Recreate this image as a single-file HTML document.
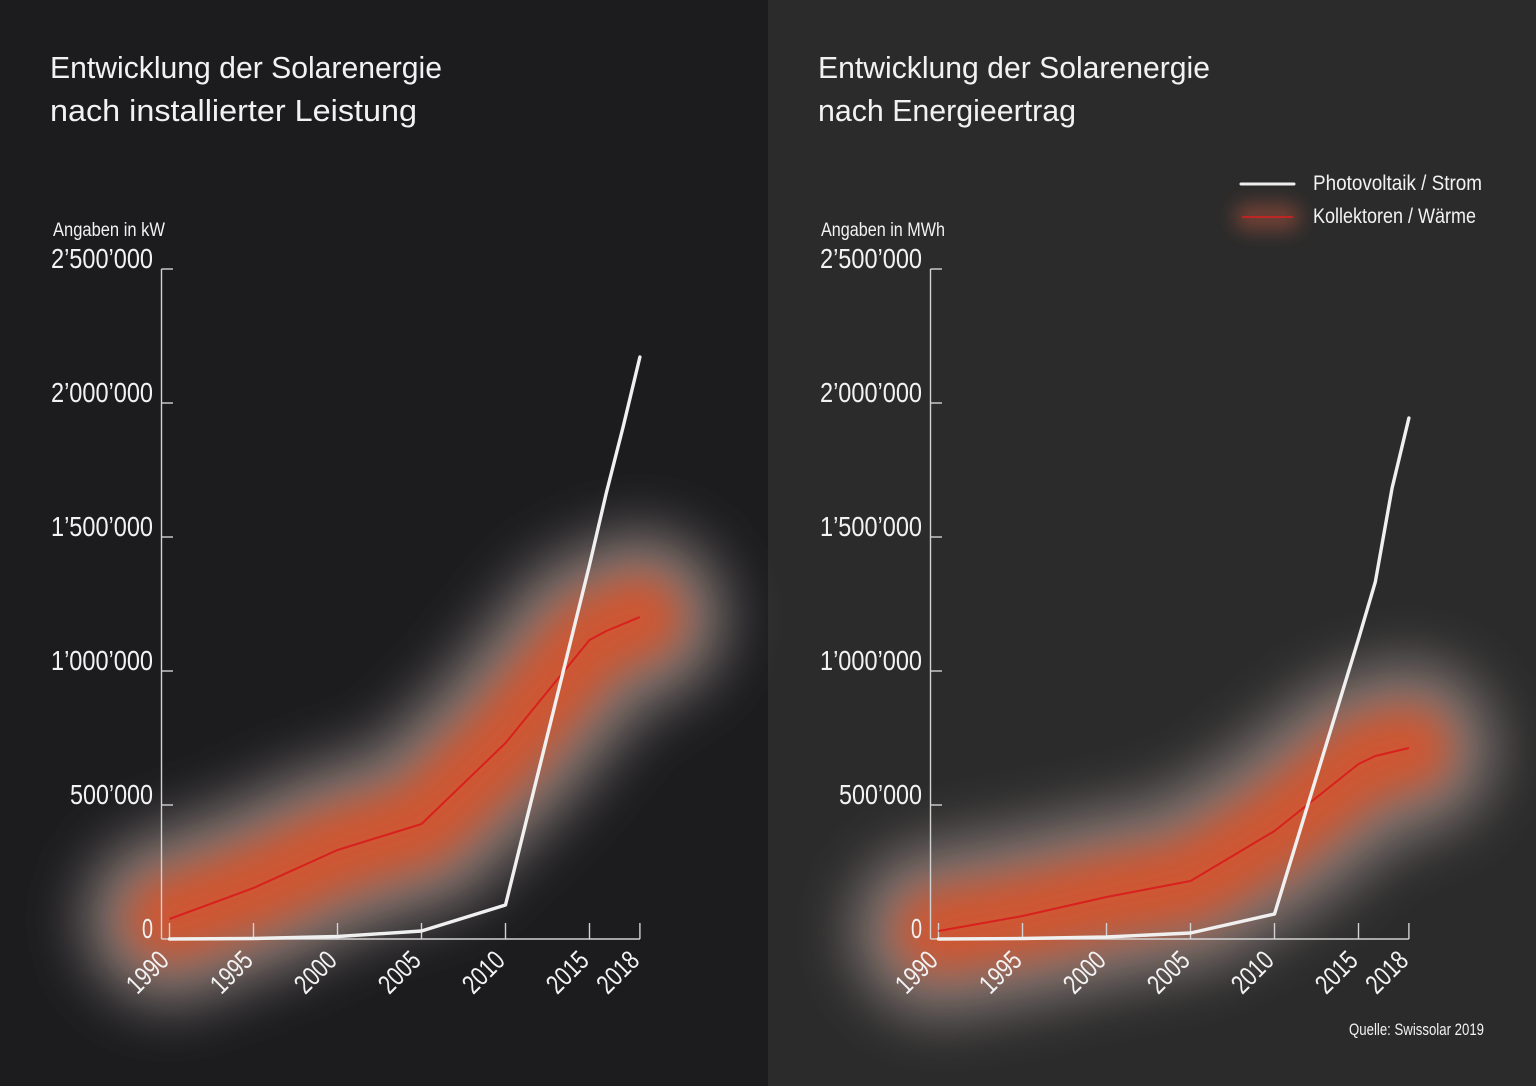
<!DOCTYPE html>
<html>
<head>
<meta charset="utf-8">
<style>
  html, body { margin: 0; padding: 0; background: #1c1c1f; }
  svg { display: block; }
  text { font-family: "Liberation Sans Narrow", "Liberation Sans", sans-serif; fill: #f2f2f2; }
</style>
</head>
<body>
<svg width="1536" height="1086" viewBox="0 0 1536 1086" xmlns="http://www.w3.org/2000/svg">
  <defs>
    <filter id="blurGrey" filterUnits="userSpaceOnUse" x="0" y="0" width="1536" height="1086">
      <feGaussianBlur stdDeviation="28"/>
    </filter>
    <filter id="blurOrange" filterUnits="userSpaceOnUse" x="0" y="0" width="1536" height="1086">
      <feGaussianBlur stdDeviation="20"/>
    </filter>
    <filter id="blurLegend" filterUnits="userSpaceOnUse" x="0" y="0" width="1536" height="1086">
      <feGaussianBlur stdDeviation="9"/>
    </filter>
  </defs>

  <!-- backgrounds -->
  <rect x="0" y="0" width="768" height="1086" fill="#1c1c1f"/>
  <rect x="768" y="0" width="768" height="1086" fill="#2b2b2b"/>

  <!-- ============ LEFT PANEL ============ -->
  <text x="50" y="78" font-size="31" textLength="392" lengthAdjust="spacingAndGlyphs">Entwicklung der Solarenergie</text>
  <text x="50" y="121" font-size="31" textLength="367" lengthAdjust="spacingAndGlyphs">nach installierter Leistung</text>
  <text x="53" y="236" font-size="19" textLength="112" lengthAdjust="spacingAndGlyphs">Angaben in kW</text>

  <!-- glow left -->
  <path d="M169.5,919 L253.5,888 L337.5,850 L421.5,824 L505.5,743 L589.5,640 L606.3,631 L623.1,624 L639.9,617"
        fill="none" stroke="#807673" stroke-width="175" stroke-linecap="round" stroke-linejoin="round" filter="url(#blurGrey)"/>
  <path d="M169.5,919 L253.5,888 L337.5,850 L421.5,824 L505.5,743 L589.5,640 L606.3,631 L623.1,624 L639.9,617"
        fill="none" stroke="#cf5633" stroke-width="86" stroke-linecap="round" stroke-linejoin="round" filter="url(#blurOrange)"/>

  <!-- y labels left -->
  <g font-size="28">
    <text x="51" y="268" textLength="102" lengthAdjust="spacingAndGlyphs">2’500’000</text>
    <text x="51" y="402" textLength="102" lengthAdjust="spacingAndGlyphs">2’000’000</text>
    <text x="51" y="536" textLength="102" lengthAdjust="spacingAndGlyphs">1’500’000</text>
    <text x="51" y="670" textLength="102" lengthAdjust="spacingAndGlyphs">1’000’000</text>
    <text x="70" y="804" textLength="83" lengthAdjust="spacingAndGlyphs">500’000</text>
    <text x="142" y="938" textLength="11" lengthAdjust="spacingAndGlyphs">0</text>
  </g>

  <!-- axes left -->
  <g stroke="#d2d2d2" stroke-width="1.4" fill="none">
    <line x1="161.5" y1="269" x2="161.5" y2="939"/>
    <line x1="161.5" y1="939" x2="639.9" y2="939"/>
    <line x1="161.5" y1="269" x2="173" y2="269"/>
    <line x1="161.5" y1="403" x2="173" y2="403"/>
    <line x1="161.5" y1="537" x2="173" y2="537"/>
    <line x1="161.5" y1="671" x2="173" y2="671"/>
    <line x1="161.5" y1="805" x2="173" y2="805"/>
    <line x1="169.5" y1="923" x2="169.5" y2="939"/>
    <line x1="253.5" y1="923" x2="253.5" y2="939"/>
    <line x1="337.5" y1="923" x2="337.5" y2="939"/>
    <line x1="421.5" y1="923" x2="421.5" y2="939"/>
    <line x1="505.5" y1="923" x2="505.5" y2="939"/>
    <line x1="589.5" y1="923" x2="589.5" y2="939"/>
    <line x1="639.9" y1="923" x2="639.9" y2="939"/>
  </g>

  <!-- x labels left -->
  <g font-size="27">
    <text transform="translate(170.5,962) rotate(-45)" x="-47" y="0" textLength="47" lengthAdjust="spacingAndGlyphs">1990</text>
    <text transform="translate(254.5,962) rotate(-45)" x="-47" y="0" textLength="47" lengthAdjust="spacingAndGlyphs">1995</text>
    <text transform="translate(338.5,962) rotate(-45)" x="-47" y="0" textLength="47" lengthAdjust="spacingAndGlyphs">2000</text>
    <text transform="translate(422.5,962) rotate(-45)" x="-47" y="0" textLength="47" lengthAdjust="spacingAndGlyphs">2005</text>
    <text transform="translate(506.5,962) rotate(-45)" x="-47" y="0" textLength="47" lengthAdjust="spacingAndGlyphs">2010</text>
    <text transform="translate(590.5,962) rotate(-45)" x="-47" y="0" textLength="47" lengthAdjust="spacingAndGlyphs">2015</text>
    <text transform="translate(640.9,962) rotate(-45)" x="-47" y="0" textLength="47" lengthAdjust="spacingAndGlyphs">2018</text>
  </g>

  <!-- series left -->
  <path d="M169.5,919 L253.5,888 L337.5,850 L421.5,824 L505.5,743 L589.5,640 L606.3,631 L623.1,624 L639.9,617"
        fill="none" stroke="#d8201e" stroke-width="2" stroke-linejoin="round"/>
  <path d="M169.5,939 L253.5,938.5 L337.5,936.5 L421.5,931 L505.5,905 L589.5,565 L606.3,493 L623.1,427 L639.9,357"
        fill="none" stroke="#f0f0f0" stroke-width="3.4" stroke-linecap="round" stroke-linejoin="round"/>

  <!-- ============ RIGHT PANEL ============ -->
  <text x="818" y="78" font-size="31" textLength="392" lengthAdjust="spacingAndGlyphs">Entwicklung der Solarenergie</text>
  <text x="818" y="121" font-size="31" textLength="258" lengthAdjust="spacingAndGlyphs">nach Energieertrag</text>
  <text x="821" y="236" font-size="19" textLength="124" lengthAdjust="spacingAndGlyphs">Angaben in MWh</text>

  <!-- legend -->
  <line x1="1241" y1="184" x2="1294" y2="184" stroke="#f0f0f0" stroke-width="3" stroke-linecap="round"/>
  <line x1="1248" y1="217" x2="1287" y2="217" stroke="#6e4034" stroke-width="28" stroke-linecap="round" filter="url(#blurLegend)"/>
  <line x1="1242" y1="217" x2="1293" y2="217" stroke="#d8201e" stroke-width="1.6"/>
  <text x="1313" y="190" font-size="21" textLength="169" lengthAdjust="spacingAndGlyphs">Photovoltaik / Strom</text>
  <text x="1313" y="223" font-size="21" textLength="163" lengthAdjust="spacingAndGlyphs">Kollektoren / Wärme</text>

  <!-- glow right -->
  <path d="M938.5,931 L1022.5,916 L1106.5,897 L1190.5,881 L1274.5,831 L1358.5,764 L1375.3,756 L1392.1,752 L1408.9,748"
        fill="none" stroke="#807673" stroke-width="175" stroke-linecap="round" stroke-linejoin="round" filter="url(#blurGrey)"/>
  <path d="M938.5,931 L1022.5,916 L1106.5,897 L1190.5,881 L1274.5,831 L1358.5,764 L1375.3,756 L1392.1,752 L1408.9,748"
        fill="none" stroke="#cf5633" stroke-width="86" stroke-linecap="round" stroke-linejoin="round" filter="url(#blurOrange)"/>

  <!-- y labels right -->
  <g font-size="28">
    <text x="820" y="268" textLength="102" lengthAdjust="spacingAndGlyphs">2’500’000</text>
    <text x="820" y="402" textLength="102" lengthAdjust="spacingAndGlyphs">2’000’000</text>
    <text x="820" y="536" textLength="102" lengthAdjust="spacingAndGlyphs">1’500’000</text>
    <text x="820" y="670" textLength="102" lengthAdjust="spacingAndGlyphs">1’000’000</text>
    <text x="839" y="804" textLength="83" lengthAdjust="spacingAndGlyphs">500’000</text>
    <text x="911" y="938" textLength="11" lengthAdjust="spacingAndGlyphs">0</text>
  </g>

  <!-- axes right -->
  <g stroke="#d2d2d2" stroke-width="1.4" fill="none">
    <line x1="930.5" y1="269" x2="930.5" y2="939"/>
    <line x1="930.5" y1="939" x2="1408.9" y2="939"/>
    <line x1="930.5" y1="269" x2="942" y2="269"/>
    <line x1="930.5" y1="403" x2="942" y2="403"/>
    <line x1="930.5" y1="537" x2="942" y2="537"/>
    <line x1="930.5" y1="671" x2="942" y2="671"/>
    <line x1="930.5" y1="805" x2="942" y2="805"/>
    <line x1="938.5" y1="923" x2="938.5" y2="939"/>
    <line x1="1022.5" y1="923" x2="1022.5" y2="939"/>
    <line x1="1106.5" y1="923" x2="1106.5" y2="939"/>
    <line x1="1190.5" y1="923" x2="1190.5" y2="939"/>
    <line x1="1274.5" y1="923" x2="1274.5" y2="939"/>
    <line x1="1358.5" y1="923" x2="1358.5" y2="939"/>
    <line x1="1408.9" y1="923" x2="1408.9" y2="939"/>
  </g>

  <!-- x labels right -->
  <g font-size="27">
    <text transform="translate(939.5,962) rotate(-45)" x="-47" y="0" textLength="47" lengthAdjust="spacingAndGlyphs">1990</text>
    <text transform="translate(1023.5,962) rotate(-45)" x="-47" y="0" textLength="47" lengthAdjust="spacingAndGlyphs">1995</text>
    <text transform="translate(1107.5,962) rotate(-45)" x="-47" y="0" textLength="47" lengthAdjust="spacingAndGlyphs">2000</text>
    <text transform="translate(1191.5,962) rotate(-45)" x="-47" y="0" textLength="47" lengthAdjust="spacingAndGlyphs">2005</text>
    <text transform="translate(1275.5,962) rotate(-45)" x="-47" y="0" textLength="47" lengthAdjust="spacingAndGlyphs">2010</text>
    <text transform="translate(1359.5,962) rotate(-45)" x="-47" y="0" textLength="47" lengthAdjust="spacingAndGlyphs">2015</text>
    <text transform="translate(1409.9,962) rotate(-45)" x="-47" y="0" textLength="47" lengthAdjust="spacingAndGlyphs">2018</text>
  </g>

  <!-- series right -->
  <path d="M938.5,931 L1022.5,916 L1106.5,897 L1190.5,881 L1274.5,831 L1358.5,764 L1375.3,756 L1392.1,752 L1408.9,748"
        fill="none" stroke="#d8201e" stroke-width="2" stroke-linejoin="round"/>
  <path d="M938.5,939 L1022.5,938.5 L1106.5,937 L1190.5,933 L1274.5,914 L1358.5,639 L1375.3,582 L1392.1,488 L1408.9,418"
        fill="none" stroke="#f0f0f0" stroke-width="3.4" stroke-linecap="round" stroke-linejoin="round"/>

  <!-- source -->
  <text x="1349" y="1035" font-size="17" textLength="135" lengthAdjust="spacingAndGlyphs">Quelle: Swissolar 2019</text>
</svg>
</body>
</html>
